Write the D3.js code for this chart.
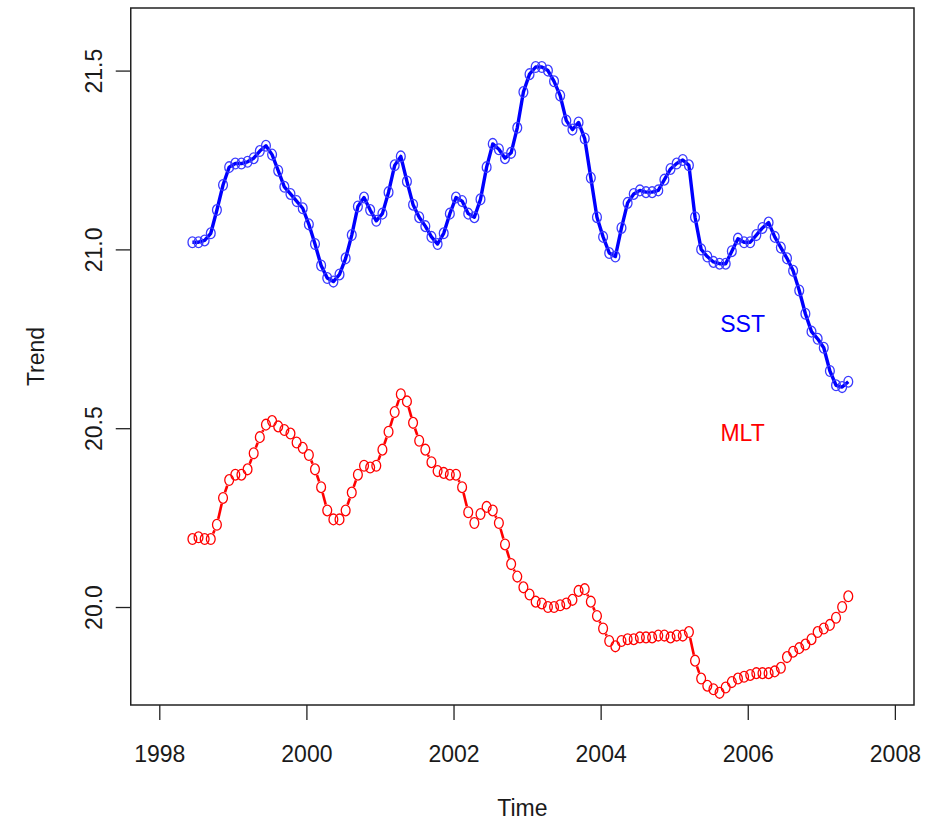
<!DOCTYPE html>
<html>
<head>
<meta charset="utf-8">
<script src="https://cdn.jsdelivr.net/npm/d3@7"></script>
<style>
  html, body { margin: 0; padding: 0; background: #fff; }
  svg { display: block; }
  text { font-family: "Liberation Sans", Arial, Helvetica, sans-serif; }
</style>
</head>
<body>
<svg id="chart" width="927" height="821"></svg>
<script>
// ---- data (monthly series) ----
const startTime = 1998.45;   // first monthly observation
const monthsPerYear = 12;

const sst = [
  21.02, 21.02, 21.025, 21.045, 21.11, 21.18, 21.23, 21.24, 21.24, 21.245,
  21.255, 21.275, 21.29, 21.265, 21.22, 21.175, 21.155, 21.135, 21.115, 21.07,
  21.015, 20.955, 20.92, 20.91, 20.93, 20.975, 21.04, 21.12, 21.145, 21.11,
  21.08, 21.10, 21.16, 21.235, 21.26, 21.19, 21.125, 21.09, 21.065, 21.035,
  21.015, 21.045, 21.10, 21.145, 21.135, 21.10, 21.09, 21.14, 21.23, 21.295,
  21.28, 21.255, 21.27, 21.34, 21.44, 21.49, 21.51, 21.51, 21.50, 21.47,
  21.43, 21.36, 21.335, 21.355, 21.31, 21.20, 21.09, 21.035, 20.99, 20.98,
  21.06, 21.13, 21.155, 21.165, 21.16, 21.16, 21.165, 21.195, 21.225, 21.24,
  21.25, 21.235, 21.09, 21.00, 20.98, 20.965, 20.96, 20.96, 20.995, 21.03,
  21.02, 21.02, 21.04, 21.06, 21.075, 21.035, 21.005, 20.975, 20.94, 20.885,
  20.82, 20.77, 20.75, 20.725, 20.66, 20.62, 20.615, 20.63
];

const mlt = [
  20.19, 20.195, 20.19, 20.19, 20.23, 20.305, 20.355, 20.37, 20.37, 20.385,
  20.43, 20.475, 20.51, 20.52, 20.505, 20.495, 20.485, 20.46, 20.445, 20.425,
  20.385, 20.335, 20.27, 20.245, 20.245, 20.27, 20.32, 20.37, 20.395, 20.39,
  20.395, 20.44, 20.49, 20.545, 20.595, 20.575, 20.515, 20.465, 20.44, 20.405,
  20.38, 20.375, 20.37, 20.37, 20.335, 20.265, 20.235, 20.26, 20.28, 20.27,
  20.235, 20.175, 20.12, 20.085, 20.055, 20.035, 20.015, 20.01, 20.00, 20.00,
  20.005, 20.01, 20.02, 20.045, 20.05, 20.015, 19.975, 19.94, 19.905, 19.89,
  19.905, 19.91, 19.91, 19.915, 19.915, 19.915, 19.92, 19.92, 19.915, 19.92,
  19.92, 19.93, 19.85, 19.80, 19.78, 19.77, 19.76, 19.775, 19.79, 19.80,
  19.805, 19.81, 19.815, 19.815, 19.815, 19.82, 19.83, 19.86, 19.875, 19.885,
  19.895, 19.91, 19.93, 19.94, 19.95, 19.97, 20.00, 20.03
];

const xTicks = [1998, 2000, 2002, 2004, 2006, 2008];
const yTicks = [20.0, 20.5, 21.0, 21.5];
const yTickLabels = ["20.0", "20.5", "21.0", "21.5"];
const seriesLabels = ["SST", "MLT"];
const seriesLabelPos = [[2005.93, 20.77], [2005.93, 20.464]];
const xTitle = "Time";
const yTitle = "Trend";

// ---- layout ----
const svg = d3.select("#chart");
const box = { left: 130.75, right: 914, top: 8, bottom: 705 };

const x = d3.scaleLinear().domain([1997.612, 2008.26]).range([box.left, box.right]);
const y = d3.scaleLinear().domain([19.726, 21.675]).range([box.bottom, box.top]);

const times = sst.map((_, i) => startTime + i / monthsPerYear);
const sstPts = sst.map((v, i) => [x(times[i]), y(v)]);
const mltPts = mlt.map((v, i) => [x(times[i]), y(v)]);

const FS = 23;
const textCol = "#1a1a1a";

// axes
const xAxis = d3.axisBottom(x).tickValues(xTicks).tickSize(15).tickFormat(d3.format("d"));
const gx = svg.append("g").attr("transform", `translate(0,${box.bottom})`).call(xAxis);
gx.select(".domain").remove();
gx.selectAll(".tick line").attr("stroke", "#222").attr("stroke-width", 1.3);
gx.selectAll(".tick text")
  .attr("y", 56.7).attr("dy", 0)
  .attr("font-size", FS).attr("fill", textCol)
  .attr("font-family", "Liberation Sans, Arial, sans-serif");

const yAxis = d3.axisLeft(y).tickValues(yTicks).tickSize(15)
  .tickFormat((d, i) => yTickLabels[i]);
const gy = svg.append("g").attr("transform", `translate(${box.left},0)`).call(yAxis);
gy.select(".domain").remove();
gy.selectAll(".tick line").attr("stroke", "#222").attr("stroke-width", 1.3);
gy.selectAll(".tick text")
  .attr("x", 0).attr("dy", 0)
  .attr("transform", "translate(-29,0) rotate(-90)")
  .attr("text-anchor", "middle")
  .attr("font-size", FS).attr("fill", textCol)
  .attr("font-family", "Liberation Sans, Arial, sans-serif");

// box
svg.append("rect")
  .attr("x", box.left).attr("y", box.top)
  .attr("width", box.right - box.left).attr("height", box.bottom - box.top)
  .attr("fill", "none").attr("stroke", "#222").attr("stroke-width", 1.5);

// titles
svg.append("text").attr("x", (box.left + box.right) / 2).attr("y", 816)
  .attr("text-anchor", "middle").attr("font-size", FS).attr("fill", textCol).text(xTitle);
svg.append("text").attr("transform", `translate(44,${(box.top + box.bottom) / 2}) rotate(-90)`)
  .attr("text-anchor", "middle").attr("font-size", FS).attr("fill", textCol).text(yTitle);

svg.append("defs").append("clipPath").attr("id", "plotclip")
  .append("rect").attr("x", box.left).attr("y", box.top)
  .attr("width", box.right - box.left).attr("height", box.bottom - box.top);

const plot = svg.append("g").attr("clip-path", "url(#plotclip)");

// SST: thick line + circles
plot.append("path")
  .attr("d", d3.line()(sstPts))
  .attr("fill", "none").attr("stroke", "#0000ff").attr("stroke-width", 3.4)
  .attr("stroke-linejoin", "round");
plot.append("g").selectAll("ellipse").data(sstPts).join("ellipse")
  .attr("cx", d => d[0]).attr("cy", d => d[1])
  .attr("rx", 4.4).attr("ry", 5.4)
  .attr("fill", "none").attr("stroke", "#3b3bff").attr("stroke-width", 1.3);

// MLT: type "b" (points with gapped connecting segments)
const gap = 6;
const segs = [];
for (let i = 0; i < mltPts.length - 1; i++) {
  const [x1, y1] = mltPts[i], [x2, y2] = mltPts[i + 1];
  const dx = x2 - x1, dy = y2 - y1, d = Math.hypot(dx, dy);
  if (d > 2 * gap) {
    const ux = dx / d, uy = dy / d;
    segs.push([[x1 + ux * gap, y1 + uy * gap], [x2 - ux * gap, y2 - uy * gap]]);
  }
}
plot.append("g").selectAll("line").data(segs).join("line")
  .attr("x1", d => d[0][0]).attr("y1", d => d[0][1])
  .attr("x2", d => d[1][0]).attr("y2", d => d[1][1])
  .attr("stroke", "#ff0000").attr("stroke-width", 2.6);
plot.append("g").selectAll("ellipse").data(mltPts).join("ellipse")
  .attr("cx", d => d[0]).attr("cy", d => d[1])
  .attr("rx", 4.4).attr("ry", 5.4)
  .attr("fill", "none").attr("stroke", "#ff0000").attr("stroke-width", 1.3);

// series labels
const labelCols = ["#0000ff", "#ff0000"];
seriesLabels.forEach((s, i) => {
  svg.append("text")
    .attr("x", x(seriesLabelPos[i][0])).attr("y", y(seriesLabelPos[i][1]))
    .attr("text-anchor", "middle").attr("font-size", FS).attr("fill", labelCols[i])
    .text(s);
});
</script>
</body>
</html>
